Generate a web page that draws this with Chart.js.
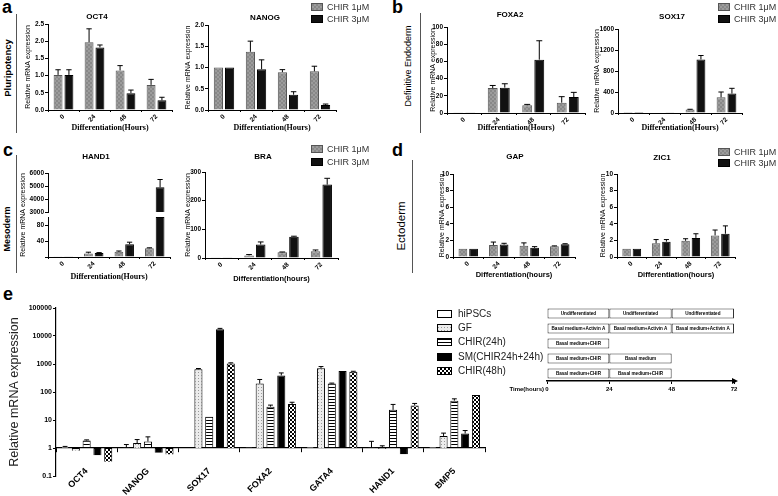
<!DOCTYPE html>
<html>
<head>
<meta charset="utf-8">
<script src="https://cdn.jsdelivr.net/npm/chart.js@4.4.1/dist/chart.umd.min.js"></script>
<style>
  body { margin: 0; background: #fff; }
  #page { position: relative; width: 778px; height: 496px; overflow: hidden; font-family: "Liberation Sans", Arial, sans-serif; }
  canvas { position: absolute; }
  .lbl { position: absolute; white-space: nowrap; line-height: 1; color: #000; }
  .letter { font-size: 18px; font-weight: bold; }
  .rot { transform: translate(-50%, -50%) rotate(-90deg); }
  .vline { position: absolute; width: 0; border-left: 1px solid #555; }
</style>
</head>
<body>
<div id="page">
  <div class="lbl letter" style="left:2px;top:-2px">a</div>
  <div class="lbl letter" style="left:392px;top:-2px">b</div>
  <div class="lbl letter" style="left:3px;top:141px">c</div>
  <div class="lbl letter" style="left:392px;top:141px">d</div>
  <div class="lbl letter" style="left:3px;top:285px">e</div>

  <div class="lbl rot" style="left:8px;top:68px;font-size:9.5px;font-weight:bold">Pluripotency</div>
  <div class="lbl rot" style="left:408px;top:66px;font-size:9px">Definitive Endoderm</div>
  <div class="lbl rot" style="left:7px;top:229px;font-size:9px;font-weight:bold">Mesoderm</div>
  <div class="lbl rot" style="left:402px;top:226px;font-size:11.5px">Ectoderm</div>

  <div class="vline" style="left:16px;top:14px;height:119px"></div>
  <div class="vline" style="left:420px;top:13px;height:120px"></div>
  <div class="vline" style="left:16px;top:155px;height:118px"></div>
  <div class="vline" style="left:412px;top:160px;height:113px"></div>
</div>
<script>
// ---- data: panels a-d (relative mRNA expression, mean and SD) ----
const hours = ['0', '24', '48', '72'];

const OCT4_1uM = [1.02, 1.97, 1.15, 0.73];
const OCT4_1uM_sd = [0.15, 0.39, 0.14, 0.16];
const OCT4_3uM = [1.02, 1.82, 0.49, 0.28];
const OCT4_3uM_sd = [0.15, 0.07, 0.09, 0.09];
const NANOG_1uM = [1.0, 1.37, 0.89, 0.91];
const NANOG_1uM_sd = [0, 0.25, 0.06, 0.12];
const NANOG_3uM = [1.0, 0.96, 0.36, 0.12];
const NANOG_3uM_sd = [0, 0.22, 0.07, 0.02];

const FOXA2_1uM = [0.8, 29, 9, 12];
const FOXA2_1uM_sd = [0, 3, 1, 7];
const FOXA2_3uM = [0.8, 29.5, 62, 18.5];
const FOXA2_3uM_sd = [0, 4.5, 22, 5.5];
const SOX17_1uM = [1, 10, 65, 300];
const SOX17_1uM_sd = [0, 0, 6, 100];
const SOX17_3uM = [1, 12, 1020, 370];
const SOX17_3uM_sd = [0, 0, 75, 100];

const HAND1_1uM = [0.5, 9, 13, 22];
const HAND1_1uM_sd = [0, 3, 2, 1];
const HAND1_3uM = [0.5, 10, 32, 4900];
const HAND1_3uM_sd = [0, 1, 5, 600];
const BRA_1uM = [1, 9, 20, 23.5];
const BRA_1uM_sd = [0, 3, 1, 4.5];
const BRA_3uM = [1, 47, 74, 256];
const BRA_3uM_sd = [0, 9, 2, 22];

const GAP_1uM = [1, 1.45, 1.35, 1.3];
const GAP_1uM_sd = [0, 0.35, 0.35, 0.04];
const GAP_3uM = [1, 1.5, 1.1, 1.55];
const GAP_3uM_sd = [0, 0.15, 0.15, 0.05];
const ZIC1_1uM = [1, 1.65, 1.95, 2.6];
const ZIC1_1uM_sd = [0, 0.45, 0.25, 0.65];
const ZIC1_3uM = [1, 1.85, 2.3, 2.8];
const ZIC1_3uM_sd = [0, 0.25, 0.5, 0.95];

// ---- data: panel e (log scale) ----
const genes = ['OCT4', 'NANOG', 'SOX17', 'FOXA2', 'GATA4', 'HAND1', 'BMP5'];
const logTicks = [0.1, 1, 10, 100, 1000, 10000, 100000];
const hiPSCs = [1.08, 1.03, 1.02, 1.04, 1.07, 1.03, 1.07];
const hiPSCs_sd = [0.06, 0.3, 0, 0, 0, 0.7, 0];
const GF = [0.8, 1.5, 650, 200, 700, 0.93, 2.7];
const GF_sd = [0, 0.5, 40, 80, 110, 0.27, 0.7];
const CHIR24h = [1.85, 1.7, 13, 30, 200, 23, 49];
const CHIR24h_sd = [0.1, 0.8, 0, 4, 8, 13, 8];
const SM = [0.55, 0.68, 17500, 390, 560, 0.6, 3.3];
const SM_sd = [0, 0, 1200, 90, 0, 0, 0.9];
const CHIR48h = [0.32, 0.58, 1050, 37, 530, 33, 78];
const CHIR48h_sd = [0, 0, 50, 6, 20, 6, 0];

// ---- data: protocol timeline ----
const timeTicks = [0, 24, 48, 72];
const protocolRows = ['hiPSCs', 'GF', 'CHIR(24h)', 'SM(CHIR24h+24h)', 'CHIR(48h)'];
const step1 = [[0, 24], [0, 24], [0, 24], [0, 24], [0, 24]];
const step1Text = ['Undifferentiated', 'Basal medium+Activin A', 'Basal medium+CHIR', 'Basal medium+CHIR', 'Basal medium+CHIR'];
const step2 = [[24, 48], [24, 48], null, [24, 48], [24, 48]];
const step2Text = ['Undifferentiated', 'Basal medium+Activin A', '', 'Basal medium', 'Basal medium+CHIR'];
const step3 = [[48, 72], [48, 72], null, null, null];
const step3Text = ['Undifferentiated', 'Basal medium+Activin A', '', '', ''];

const SANS = '"Liberation Sans", Arial, Helvetica, sans-serif';
const SERIF = '"Liberation Serif", "Times New Roman", serif';
Chart.defaults.font.family = SANS;
Chart.defaults.color = '#000';

const page = document.getElementById('page');

function makePattern(size, paint) {
  const c = document.createElement('canvas');
  c.width = size; c.height = size;
  const g = c.getContext('2d');
  paint(g, size);
  return g.createPattern(c, 'repeat');
}
const grayFill = makePattern(4, g => {
  g.fillStyle = '#9c9c9c'; g.fillRect(0, 0, 4, 4);
  g.fillStyle = '#888'; g.fillRect(0, 0, 2, 2); g.fillRect(2, 2, 2, 2);
});
const dotFill = makePattern(3, g => {
  g.fillStyle = '#ececec'; g.fillRect(0, 0, 3, 3);
  g.fillStyle = '#999'; g.fillRect(0, 0, 1, 1);
});
const stripeFill = makePattern(3, g => {
  g.fillStyle = '#fff'; g.fillRect(0, 0, 3, 3);
  g.fillStyle = '#000'; g.fillRect(0, 0, 3, 1);
});
const checkFill = makePattern(4, g => {
  g.fillStyle = '#fff'; g.fillRect(0, 0, 4, 4);
  g.fillStyle = '#000'; g.fillRect(0, 0, 2, 2); g.fillRect(2, 2, 2, 2);
});

// upper whiskers with caps
const errorBars = {
  id: 'errorBars',
  afterDatasetsDraw(chart, args, opts) {
    const ctx = chart.ctx;
    (opts.sd || []).forEach((sdArr, i) => {
      const meta = chart.getDatasetMeta(i);
      if (!sdArr) return;
      const ys = chart.scales[meta.yAxisID];
      ctx.save();
      ctx.strokeStyle = '#000';
      ctx.lineWidth = 1;
      meta.data.forEach((bar, j) => {
        const raw = chart.data.datasets[i].data[j];
        const sd = sdArr[j];
        if (!sd || raw == null) return;
        const v = Array.isArray(raw) ? raw[1] : raw;
        const yTop = ys.getPixelForValue(v + sd);
        const cap = bar.width * 0.3;
        ctx.beginPath();
        ctx.moveTo(bar.x, bar.y);
        ctx.lineTo(bar.x, yTop);
        ctx.moveTo(bar.x - cap, yTop);
        ctx.lineTo(bar.x + cap, yTop);
        ctx.stroke();
      });
      ctx.restore();
    });
  }
};

// titles and legends given in page coordinates
const pageText = {
  id: 'pageText',
  afterDraw(chart, args, opts) {
    const ctx = chart.ctx;
    const [ox, oy] = opts.origin;
    ctx.save();
    ctx.translate(-ox, -oy);
    ctx.textBaseline = 'middle';
    (opts.items || []).forEach(t => {
      ctx.save();
      ctx.font = t.font;
      ctx.fillStyle = t.color || '#000';
      ctx.textAlign = t.align || 'center';
      ctx.translate(t.x, t.y);
      if (t.rot) ctx.rotate(t.rot);
      ctx.fillText(t.text, 0, 0);
      ctx.restore();
    });
    (opts.legend || []).forEach(l => {
      ctx.fillStyle = l.fill;
      ctx.fillRect(l.x, l.y - l.h / 2, l.w, l.h);
      ctx.strokeStyle = l.stroke;
      ctx.lineWidth = 1;
      ctx.strokeRect(l.x + 0.5, l.y - l.h / 2 + 0.5, l.w - 1, l.h - 1);
      ctx.font = l.font;
      ctx.fillStyle = l.color;
      ctx.textAlign = 'left';
      ctx.fillText(l.text, l.x + l.w + l.gap, l.y + 0.5);
    });
    ctx.restore();
  }
};

function place(box) {
  const c = document.createElement('canvas');
  c.width = box[2]; c.height = box[3];
  c.style.left = box[0] + 'px';
  c.style.top = box[1] + 'px';
  page.appendChild(c);
  return c;
}

function rowLegend(x, y1, y2) {
  const base = { x: x, w: 12, h: 8, gap: 4, font: '9px ' + SANS, color: '#333' };
  return [
    Object.assign({}, base, { y: y1, fill: grayFill, stroke: '#555', text: 'CHIR 1\u03bcM' }),
    Object.assign({}, base, { y: y2, fill: '#111', stroke: '#000', text: 'CHIR 3\u03bcM' })
  ];
}

function smallChart(cfg) {
  const [cx, cy, cw, ch] = cfg.box;
  const [l, t, r, b] = cfg.area;
  const yW = cfg.yW, xH = cfg.noX ? 0 : cfg.xH;
  const items = (cfg.items || []).slice();
  if (cfg.title) items.push({ text: cfg.title, x: cfg.titleX || (l + r) / 2, y: cfg.titleY, font: 'bold 8px ' + SANS });
  return new Chart(place(cfg.box), {
    type: 'bar',
    data: {
      labels: hours,
      datasets: [
        { data: cfg.low, backgroundColor: grayFill, borderColor: '#555', borderWidth: 1 },
        { data: cfg.high, backgroundColor: '#111', borderColor: '#000', borderWidth: 1 }
      ]
    },
    options: {
      responsive: false, animation: false, devicePixelRatio: 1,
      layout: { padding: { left: l - cx - yW, top: t - cy, right: cx + cw - r, bottom: cy + ch - b - xH } },
      datasets: { bar: { categoryPercentage: 0.7, barPercentage: 0.82 } },
      plugins: {
        legend: { display: false }, tooltip: { enabled: false },
        errorBars: { sd: [cfg.lowSd, cfg.highSd] },
        pageText: { origin: [cx, cy], items: items, legend: cfg.legend }
      },
      scales: {
        x: {
          display: !cfg.noX,
          offset: true,
          grid: { display: true, drawOnChartArea: false, tickLength: 2, color: '#000' },
          border: { color: '#000', width: 1 },
          ticks: { font: { size: 6.5, weight: 'bold' }, color: '#000', minRotation: 45, maxRotation: 45, padding: 1, autoSkip: false },
          title: { display: true, text: cfg.xTitle, font: cfg.xFont, color: '#000', padding: 0 },
          afterFit: s => { s.height = xH; s.paddingLeft = 0; s.paddingRight = 0; }
        },
        y: {
          min: cfg.min, max: cfg.max,
          grid: { display: true, drawOnChartArea: false, tickLength: 3, color: '#000' },
          border: { color: '#000', width: 1 },
          ticks: { stepSize: cfg.step, font: { size: 6.5, weight: 'bold' }, color: '#000', padding: 1,
                   callback: cfg.tickCb || (v => v) },
          title: { display: !cfg.noYTitle, text: 'Relative mRNA expression', font: { size: 7 }, color: '#000', padding: 0 },
          afterFit: s => { s.width = yW; s.paddingTop = 0; s.paddingBottom = 0; }
        }
      }
    },
    plugins: [errorBars, pageText]
  });
}

const serifTitle = { family: SERIF, size: 8, weight: 'bold' };
const sansTitle = { family: SANS, size: 7.5, weight: 'bold' };

// ---- a ----
smallChart({ box: [20, 8, 160, 130], area: [48, 24, 172, 110], yW: 24, xH: 23,
  min: 0, max: 2.5, step: 0.5, tickCb: v => v.toFixed(1),
  low: OCT4_1uM, lowSd: OCT4_1uM_sd, high: OCT4_3uM, highSd: OCT4_3uM_sd,
  title: 'OCT4', titleX: 97, titleY: 17, xTitle: 'Differentiation(Hours)', xFont: serifTitle });
smallChart({ box: [175, 0, 205, 138], area: [208, 25, 336, 110], yW: 24, xH: 23,
  min: 0, max: 2.0, step: 0.5, tickCb: v => v.toFixed(1),
  low: NANOG_1uM, lowSd: NANOG_1uM_sd, high: NANOG_3uM, highSd: NANOG_3uM_sd,
  title: 'NANOG', titleX: 265, titleY: 18, xTitle: 'Differentiation(Hours)', xFont: serifTitle,
  legend: rowLegend(311, 7, 19) });

// ---- b ----
smallChart({ box: [420, 8, 170, 130], area: [447, 27, 585, 113], yW: 18, xH: 20,
  min: 0, max: 100, step: 20,
  low: FOXA2_1uM, lowSd: FOXA2_1uM_sd, high: FOXA2_3uM, highSd: FOXA2_3uM_sd,
  title: 'FOXA2', titleX: 510, titleY: 15, xTitle: 'Differentiation(Hours)', xFont: serifTitle });
smallChart({ box: [590, 0, 188, 138], area: [618, 29, 742, 113], yW: 25, xH: 20,
  min: 0, max: 1600, step: 200,
  low: SOX17_1uM, lowSd: SOX17_1uM_sd, high: SOX17_3uM, highSd: SOX17_3uM_sd,
  title: 'SOX17', titleX: 672, titleY: 17, xTitle: 'Differentiation(Hours)', xFont: serifTitle,
  legend: rowLegend(718, 7, 19) });

// ---- c ---- HAND1 has a broken axis: upper piece 3000-6000, lower piece 0-100
const handTopMin = 3000, handLowMax = 100;
smallChart({ box: [20, 148, 160, 67], area: [48, 173, 170, 212], yW: 24, noX: true, noYTitle: true,
  min: handTopMin, max: 6000, step: 1000,
  low: HAND1_1uM.map(v => v > handTopMin ? [handTopMin, v] : null), lowSd: HAND1_1uM_sd,
  high: HAND1_3uM.map(v => v > handTopMin ? [handTopMin, v] : null), highSd: HAND1_3uM_sd,
  title: 'HAND1', titleX: 96, titleY: 157 });
smallChart({ box: [0, 160, 180, 125], area: [48, 217, 170, 257], yW: 24, xH: 25, noYTitle: true,
  min: 0, max: handLowMax, step: 20, tickCb: v => v === 0 ? '' : v,
  low: HAND1_1uM.map(v => Math.min(v, handLowMax)), lowSd: HAND1_1uM.map((v, j) => v > handLowMax ? 0 : HAND1_1uM_sd[j]),
  high: HAND1_3uM.map(v => Math.min(v, handLowMax)), highSd: HAND1_3uM.map((v, j) => v > handLowMax ? 0 : HAND1_3uM_sd[j]),
  xTitle: 'Differentiation(Hours)', xFont: serifTitle,
  items: [{ text: 'Relative mRNA expression', x: 23, y: 215, rot: -Math.PI / 2, font: '7px ' + SANS }] });
smallChart({ box: [175, 143, 205, 142], area: [205, 172, 338, 258], yW: 21, xH: 25,
  min: 0, max: 300, step: 100,
  low: BRA_1uM, lowSd: BRA_1uM_sd, high: BRA_3uM, highSd: BRA_3uM_sd,
  title: 'BRA', titleX: 263, titleY: 157, xTitle: 'Differentiation(hours)', xFont: sansTitle,
  legend: rowLegend(311, 149, 162) });

// ---- d ----
smallChart({ box: [425, 145, 170, 140], area: [453, 174, 575, 257], yW: 15, xH: 22,
  min: 0, max: 10, step: 2,
  low: GAP_1uM, lowSd: GAP_1uM_sd, high: GAP_3uM, highSd: GAP_3uM_sd,
  title: 'GAP', titleX: 515, titleY: 157, xTitle: 'Differentiation(hours)', xFont: sansTitle });
smallChart({ box: [590, 145, 188, 140], area: [617, 174, 735, 257], yW: 18, xH: 22,
  min: 0, max: 10, step: 2,
  low: ZIC1_1uM, lowSd: ZIC1_1uM_sd, high: ZIC1_3uM, highSd: ZIC1_3uM_sd,
  title: 'ZIC1', titleX: 662, titleY: 158, xTitle: 'Differentiation(hours)', xFont: sansTitle,
  legend: rowLegend(718, 152, 163) });

// ---- e ----
const eSeries = [
  { label: 'hiPSCs', values: hiPSCs, sd: hiPSCs_sd, fill: '#fff' },
  { label: 'GF', values: GF, sd: GF_sd, fill: dotFill },
  { label: 'CHIR(24h)', values: CHIR24h, sd: CHIR24h_sd, fill: stripeFill },
  { label: 'SM(CHIR24h+24h)', values: SM, sd: SM_sd, fill: '#000' },
  { label: 'CHIR(48h)', values: CHIR48h, sd: CHIR48h_sd, fill: checkFill }
];
const eBox = [0, 285, 560, 211];
const eLegendY = [314, 328, 342, 357, 371];
new Chart(place(eBox), {
  type: 'bar',
  data: {
    labels: genes,
    datasets: eSeries.map(s => ({
      label: s.label, data: s.values.map(v => [1, v]),
      backgroundColor: s.fill, borderColor: '#000', borderWidth: 1
    }))
  },
  options: {
    responsive: false, animation: false, devicePixelRatio: 1,
    layout: { padding: { left: 7, top: 308 - 285, right: 560 - 485, bottom: 496 - 476 } },
    datasets: { bar: { categoryPercentage: 0.88, barPercentage: 0.75 } },
    plugins: {
      legend: { display: false }, tooltip: { enabled: false },
      errorBars: { sd: eSeries.map(s => s.sd) },
      pageText: {
        origin: [eBox[0], eBox[1]],
        legend: eSeries.map((s, i) => ({ x: 437, y: eLegendY[i], w: 15, h: 8, gap: 6, fill: s.fill, stroke: '#000',
                                          text: s.label, font: '10px ' + SANS, color: '#222' }))
      }
    },
    scales: {
      x: {
        position: { y: 1 },
        offset: true,
        grid: { display: true, drawOnChartArea: false, tickLength: 4, color: '#000' },
        border: { color: '#000', width: 1.2 },
        ticks: { font: { size: 9, weight: 'bold' }, color: '#000', minRotation: 45, maxRotation: 45, padding: 14, autoSkip: false },
        afterFit: s => { s.paddingLeft = 0; s.paddingRight = 0; }
      },
      y: {
        type: 'logarithmic', min: 0.1, max: 100000,
        afterBuildTicks: s => { s.ticks = logTicks.map(v => ({ value: v })); },
        grid: { display: true, drawOnChartArea: false, tickLength: 3, color: '#000' },
        border: { color: '#000', width: 1.2 },
        ticks: { font: { size: 7, weight: 'bold' }, color: '#000', padding: 1, callback: v => String(v) },
        title: { display: true, text: 'Relative mRNA expression', font: { size: 12.5 }, color: '#222', padding: 0 },
        afterFit: s => { s.width = 49; s.paddingTop = 0; s.paddingBottom = 0; }
      }
    }
  },
  plugins: [errorBars, pageText]
});

// ---- protocol timeline ----
const boxText = {
  id: 'boxText',
  afterDatasetsDraw(chart, args, opts) {
    const ctx = chart.ctx;
    ctx.save();
    ctx.font = 'bold 4.6px ' + SANS;
    ctx.fillStyle = '#000';
    ctx.textAlign = 'center';
    ctx.textBaseline = 'middle';
    opts.texts.forEach((arr, i) => {
      chart.getDatasetMeta(i).data.forEach((bar, j) => {
        if (arr[j] && chart.data.datasets[i].data[j]) ctx.fillText(arr[j], (bar.x + bar.base) / 2, bar.y + 0.5);
      });
    });
    const xs = chart.scales.x, ca = chart.chartArea;
    ctx.font = 'bold 6px ' + SANS;
    ctx.textAlign = 'right';
    ctx.fillText('Time(hours)', xs.getPixelForValue(timeTicks[0]) - 3, ca.bottom + 8);
    ctx.beginPath();
    ctx.moveTo(ca.right - 2, ca.bottom - 3);
    ctx.lineTo(ca.right + 4, ca.bottom);
    ctx.lineTo(ca.right - 2, ca.bottom + 3);
    ctx.closePath();
    ctx.fill();
    ctx.restore();
  }
};
const tBox = [500, 298, 278, 102];
new Chart(place(tBox), {
  type: 'bar',
  data: {
    labels: protocolRows,
    datasets: [step1, step2, step3].map(d => ({
      data: d, backgroundColor: '#fff', borderColor: '#333', borderWidth: 1, borderSkipped: false,
      grouped: false, categoryPercentage: 1, barPercentage: 0.66
    }))
  },
  options: {
    indexAxis: 'y',
    responsive: false, animation: false, devicePixelRatio: 1,
    layout: { padding: { left: 547 - 500, top: 306 - 298, right: 778 - 734, bottom: 400 - 381 - 14 } },
    plugins: { legend: { display: false }, tooltip: { enabled: false }, boxText: { texts: [step1Text, step2Text, step3Text] } },
    scales: {
      x: {
        type: 'linear', min: 0, max: 72,
        afterBuildTicks: s => { s.ticks = timeTicks.map(v => ({ value: v })); },
        grid: { display: true, drawOnChartArea: false, tickLength: 3, color: '#000' },
        border: { color: '#000', width: 1.5 },
        ticks: { font: { size: 6, weight: 'bold' }, color: '#000', padding: 2 },
        afterFit: s => { s.height = 14; s.paddingLeft = 0; s.paddingRight = 0; }
      },
      y: { display: false }
    }
  },
  plugins: [boxText]
});
</script>
</body>
</html>
